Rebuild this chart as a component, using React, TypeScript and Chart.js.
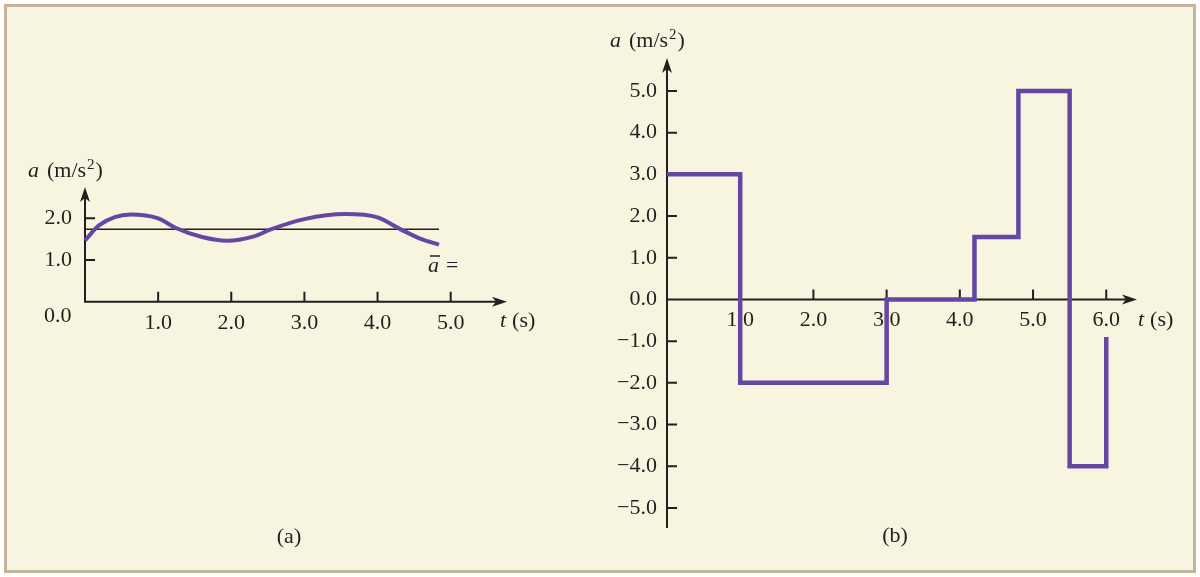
import React, { useEffect, useRef } from "react";
import { Chart, registerables } from "chart.js";

Chart.register(...registerables);

// ---------- data ----------
const curveTimes = [0, 0.2, 0.62, 1.0, 1.25, 1.6, 1.94, 2.3, 2.55, 3.0, 3.56, 4.0, 4.31, 4.6, 4.84];
const curveAccel = [1.47, 1.84, 2.09, 2.0, 1.76, 1.55, 1.46, 1.56, 1.74, 1.98, 2.1, 2.02, 1.74, 1.5, 1.37];
const averageTimes = [0, 4.84];
const averageAccel = [1.74, 1.74];
const leftXTicks = [1, 2, 3, 4, 5];
const leftYTicks = [1, 2];

const stepTimes = [0, 1, 3, 4.2, 4.8, 5.5, 6];
const stepAccel = [3, -2, 0, 1.5, 5, -4, -0.9];
const rightXTicks = [1, 2, 3, 4, 5, 6];
const rightYTicks = [5, 4, 3, 2, 1, 0, -1, -2, -3, -4, -5];

// ---------- styles ----------
const INK = "#231f20";
const PURPLE = "#6546a3";
const SERIF = "'Liberation Serif', 'Times New Roman', serif";
const FONT_SIZE = 22;

const fmt = (v: number) => (v < 0 ? "\u2212" : "") + Math.abs(v).toFixed(1);

function drawArrow(ctx: CanvasRenderingContext2D, x: number, y: number, dx: number, dy: number) {
  const L = 15, W = 5, N = 11;
  const px = -dy, py = dx;
  ctx.beginPath();
  ctx.moveTo(x, y);
  ctx.lineTo(x - dx * L + px * W, y - dy * L + py * W);
  ctx.lineTo(x - dx * N, y - dy * N);
  ctx.lineTo(x - dx * L - px * W, y - dy * L - py * W);
  ctx.closePath();
  ctx.fill();
}

function drawAxes(chart: any, yFromZero: boolean) {
  const ctx: CanvasRenderingContext2D = chart.ctx;
  const xs = chart.scales.x, ys = chart.scales.y;
  const ca = chart.chartArea;
  const x0 = xs.getPixelForValue(0);
  const y0 = ys.getPixelForValue(0);
  const yBottom = yFromZero ? y0 : ca.bottom;
  ctx.save();
  ctx.strokeStyle = INK;
  ctx.fillStyle = INK;
  ctx.lineWidth = 2;
  ctx.lineCap = "butt";
  ctx.beginPath();
  ctx.moveTo(x0, yBottom + (yFromZero ? 1 : 0));
  ctx.lineTo(x0, ca.top + 10);
  ctx.moveTo(x0 - 1, y0);
  ctx.lineTo(ca.right - 10, y0);
  ctx.stroke();
  // tick marks
  ctx.beginPath();
  for (const t of xs.ticks) {
    const px = xs.getPixelForValue(t.value);
    ctx.moveTo(px, y0);
    ctx.lineTo(px, y0 - 10);
  }
  for (const t of ys.ticks) {
    if (t.value === 0) continue;
    const py = ys.getPixelForValue(t.value);
    ctx.moveTo(x0, py);
    ctx.lineTo(x0 + 10, py);
  }
  ctx.stroke();
  drawArrow(ctx, x0, ca.top, 0, -1);
  drawArrow(ctx, ca.right, y0, 1, 0);
  ctx.restore();
}

function drawTitle(ctx: CanvasRenderingContext2D, x: number, baseline: number) {
  ctx.save();
  ctx.fillStyle = INK;
  ctx.textAlign = "left";
  ctx.textBaseline = "alphabetic";
  ctx.font = `italic ${FONT_SIZE}px ${SERIF}`;
  ctx.fillText("a", x, baseline);
  let cx = x + ctx.measureText("a").width + 8;
  ctx.font = `${FONT_SIZE}px ${SERIF}`;
  ctx.fillText("(m/s", cx, baseline);
  cx += ctx.measureText("(m/s").width + 1;
  ctx.font = `15px ${SERIF}`;
  ctx.fillText("2", cx, baseline - 8);
  cx += ctx.measureText("2").width + 1;
  ctx.font = `${FONT_SIZE}px ${SERIF}`;
  ctx.fillText(")", cx, baseline);
  ctx.restore();
}

function drawTLabel(ctx: CanvasRenderingContext2D, x: number, baseline: number) {
  ctx.save();
  ctx.fillStyle = INK;
  ctx.textAlign = "left";
  ctx.textBaseline = "alphabetic";
  ctx.font = `italic ${FONT_SIZE}px ${SERIF}`;
  ctx.fillText("t", x, baseline);
  const cx = x + ctx.measureText("t").width + 6;
  ctx.font = `${FONT_SIZE}px ${SERIF}`;
  ctx.fillText("(s)", cx, baseline);
  ctx.restore();
}

function drawCentered(ctx: CanvasRenderingContext2D, text: string, x: number, baseline: number) {
  ctx.save();
  ctx.fillStyle = INK;
  ctx.textAlign = "center";
  ctx.textBaseline = "alphabetic";
  ctx.font = `${FONT_SIZE}px ${SERIF}`;
  ctx.fillText(text, x, baseline);
  ctx.restore();
}

const leftDecor = {
  id: "leftDecor",
  beforeDatasetsDraw(chart: any) {
    drawAxes(chart, true);
  },
  afterDraw(chart: any) {
    const ctx: CanvasRenderingContext2D = chart.ctx;
    drawTitle(ctx, 28, 177);
    drawTLabel(ctx, 500, 327);
    drawCentered(ctx, "(a)", 289, 543);
    ctx.save();
    ctx.fillStyle = INK;
    ctx.textAlign = "left";
    ctx.textBaseline = "alphabetic";
    ctx.font = `${FONT_SIZE}px ${SERIF}`;
    ctx.fillText(fmt(0), 44, 322);
    ctx.font = `italic ${FONT_SIZE}px ${SERIF}`;
    ctx.fillText("a", 428, 272);
    const aw = ctx.measureText("a").width;
    ctx.strokeStyle = INK;
    ctx.lineWidth = 1.5;
    ctx.beginPath();
    ctx.moveTo(430, 256);
    ctx.lineTo(430 + aw - 1, 256);
    ctx.stroke();
    ctx.font = `${FONT_SIZE}px ${SERIF}`;
    ctx.fillText("=", 446, 272);
    ctx.restore();
  },
};

const rightDecor = {
  id: "rightDecor",
  beforeDatasetsDraw(chart: any) {
    drawAxes(chart, false);
  },
  afterDraw(chart: any) {
    const ctx: CanvasRenderingContext2D = chart.ctx;
    drawTitle(ctx, 610, 47);
    drawTLabel(ctx, 1138, 326);
    drawCentered(ctx, "(b)", 895, 542);
  },
};

const tickFont = { family: SERIF, size: FONT_SIZE };

export default function App() {
  const leftRef = useRef<HTMLCanvasElement>(null);
  const rightRef = useRef<HTMLCanvasElement>(null);

  useEffect(() => {
    const left = new Chart(leftRef.current as HTMLCanvasElement, {
      type: "scatter",
      data: {
        datasets: [
          {
            label: "a(t)",
            data: curveTimes.map((t, i) => ({ x: t, y: curveAccel[i] })),
            showLine: true,
            borderColor: PURPLE,
            borderWidth: 4,
            pointRadius: 0,
            cubicInterpolationMode: "monotone",
            clip: false,
            order: 0,
          },
          {
            label: "average",
            data: averageTimes.map((t, i) => ({ x: t, y: averageAccel[i] })),
            showLine: true,
            borderColor: INK,
            borderWidth: 1.5,
            pointRadius: 0,
            clip: false,
            order: 1,
          },
        ],
      },
      options: {
        animation: false,
        responsive: false,
        events: [],
        layout: { padding: { left: 20, right: 693, top: 187, bottom: 235.3 } },
        plugins: { legend: { display: false }, tooltip: { enabled: false } },
        scales: {
          x: {
            type: "linear",
            min: 0,
            max: 5.77,
            afterBuildTicks: (s: any) => {
              s.ticks = leftXTicks.map((v) => ({ value: v }));
            },
            afterFit: (s: any) => {
              s.height = 40;
            },
            ticks: { callback: (v: any) => fmt(Number(v)), font: tickFont, color: INK, padding: 8, maxRotation: 0, autoSkip: false },
            grid: { display: false, drawTicks: false },
            border: { display: false },
          },
          y: {
            type: "linear",
            min: 0,
            max: 2.75,
            afterBuildTicks: (s: any) => {
              s.ticks = leftYTicks.map((v) => ({ value: v }));
            },
            afterFit: (s: any) => {
              s.width = 65;
            },
            ticks: { callback: (v: any) => fmt(Number(v)), font: tickFont, color: INK, padding: 13, autoSkip: false },
            grid: { display: false, drawTicks: false },
            border: { display: false },
          },
        },
      },
      plugins: [leftDecor],
    } as any);

    const right = new Chart(rightRef.current as HTMLCanvasElement, {
      type: "scatter",
      data: {
        datasets: [
          {
            label: "a(t)",
            data: stepTimes.map((t, i) => ({ x: t, y: stepAccel[i] })),
            showLine: true,
            stepped: "before",
            borderColor: PURPLE,
            borderWidth: 4.5,
            borderJoinStyle: "miter",
            borderCapStyle: "butt",
            pointRadius: 0,
            clip: false,
          },
        ],
      },
      options: {
        animation: false,
        responsive: false,
        events: [],
        layout: { padding: { left: 597, right: 63, top: 58, bottom: 49 } },
        plugins: { legend: { display: false }, tooltip: { enabled: false } },
        scales: {
          x: {
            type: "linear",
            min: 0,
            max: 6.42,
            position: { y: 0 },
            afterBuildTicks: (s: any) => {
              s.ticks = rightXTicks.map((v) => ({ value: v }));
            },
            ticks: { callback: (v: any) => fmt(Number(v)), font: tickFont, color: INK, padding: 8, maxRotation: 0, autoSkip: false },
            grid: { display: false, drawTicks: false },
            border: { display: false },
          },
          y: {
            type: "linear",
            min: -5.48,
            max: 5.79,
            position: "left",
            afterBuildTicks: (s: any) => {
              s.ticks = rightYTicks.map((v) => ({ value: v }));
            },
            afterFit: (s: any) => {
              s.width = 70;
            },
            ticks: { callback: (v: any) => fmt(Number(v)), font: tickFont, color: INK, padding: 10, autoSkip: false },
            grid: { display: false, drawTicks: false },
            border: { display: false },
          },
        },
      },
      plugins: [rightDecor],
    } as any);

    return () => {
      left.destroy();
      right.destroy();
    };
  }, []);

  const layer: React.CSSProperties = { position: "absolute", left: 0, top: 0, width: 1200, height: 577 };
  return (
    <div style={{ position: "absolute", left: 0, top: 0, width: 1200, height: 577, overflow: "hidden" }}>
      <div
        style={{
          position: "absolute",
          left: 4,
          top: 4,
          width: 1192,
          height: 569,
          boxSizing: "border-box",
          border: "3px solid #c3b59b",
          background: "#f7f4df",
        }}
      />
      <canvas ref={leftRef} width={1200} height={577} style={layer} />
      <canvas ref={rightRef} width={1200} height={577} style={layer} />
    </div>
  );
}
